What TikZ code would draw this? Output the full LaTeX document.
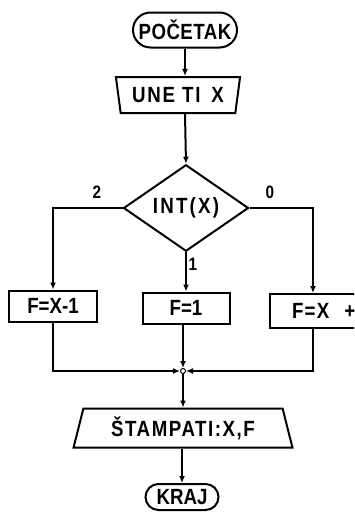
\documentclass[tikz,border=0pt]{standalone}
\usepackage{fontspec}
\setmainfont{Liberation Sans}[FakeStretch=0.85]
\newcommand{\lsp}[1]{\addfontfeatures{LetterSpace=#1}}
\usetikzlibrary{shapes.geometric,shapes.misc,arrows.meta}
\begin{document}
\begin{tikzpicture}[x=1pt,y=-1pt,line width=2pt,
  font=\bfseries\fontsize{22}{22}\selectfont,
  term/.style={draw,rounded rectangle,inner sep=0pt},
  proc/.style={draw,rectangle,inner sep=0pt},
  io/.style={draw,trapezium,trapezium stretches=true,inner sep=0pt},
  arr/.style={-{Latex[length=7pt,width=6pt]}},
  lbl/.style={font=\bfseries\fontsize{18}{18}\selectfont,inner sep=0pt}]
\useasboundingbox (0,0) rectangle (354,512);
\clip (0,0) rectangle (354,512);
% nodes
\node[term,minimum width=104pt,minimum height=35pt] (start) at (185,30) {\lsp{2}POČETAK};
\node[io,shape border rotate=180,trapezium left angle=76,trapezium right angle=76,
      minimum width=125pt,minimum height=36pt] (input) at (178,95) {\lsp{8}UNE TI\hspace{4pt} X};
\node[draw,diamond,inner sep=0pt,minimum width=125pt,minimum height=82pt] (dec) at (186,208) {\lsp{10}INT(X)};
\node[proc,minimum width=88pt,minimum height=31pt] (b1) at (53,306) {F=X-1};
\node[proc,minimum width=130pt,minimum height=34pt,text width=126pt,align=left] (b3) at (335,311) {\hspace{20pt}\lsp{6}F=X\hspace{15pt}+1};
\node[proc,minimum width=87pt,minimum height=31pt] (b2) at (186,308) {F=1};
\node[circle,draw,fill=white,line width=1pt,minimum size=5pt,inner sep=0pt] (j) at (183,371) {};
\node[io,trapezium left angle=73,trapezium right angle=73,
      minimum width=219pt,minimum height=39pt] (out) at (183,428) {\lsp{7}ŠTAMPATI:X,F};
\node[term,minimum width=73pt,minimum height=26pt] (end) at (182,497) {KRAJ};
% labels
\node[lbl] (l2) at (97,192) {2};
\node[lbl] (l0) at (270,192) {0};
\node[lbl] (l1) at (193,264) {1};
% connectors
\draw[arr] (start.south) -- (start.south |- input.north);
\draw[arr] (start.south |- input.south) -- (dec.north);
\draw[arr] (dec.west) -| (b1.north);
\draw[arr] (dec.south) -- (b2.north);
\coordinate (rt) at (313,0);
\draw[arr] (dec.east) -| (rt |- b3.north);
\draw[arr] (b2.south -| j) -- (j.north);
\draw[arr] (b1.south) |- (j.west);
\draw[arr] (rt |- b3.south) |- (j.east);
\draw[arr] (j.south) -- (out.north -| j);
\draw[arr] (out.south -| end) -- (end.north);
\end{tikzpicture}
\end{document}
